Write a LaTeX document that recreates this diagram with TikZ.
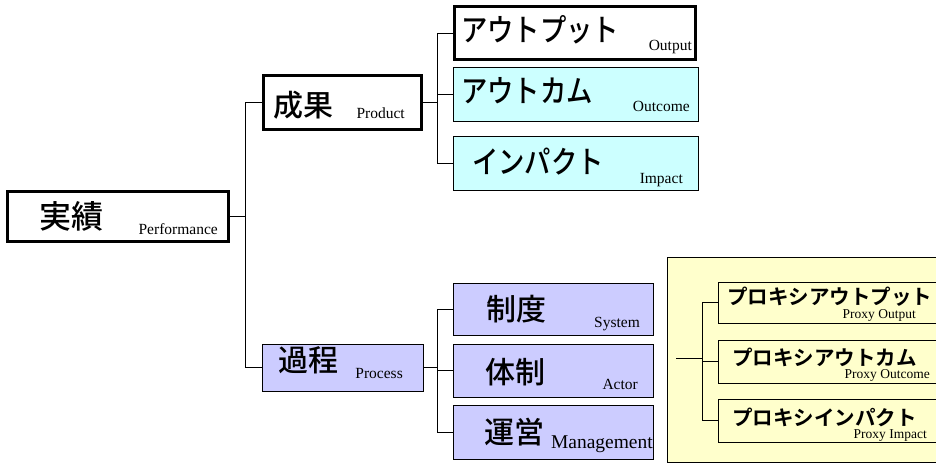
\documentclass[tikz,border=0pt]{standalone}
\usepackage{fontspec}
\usepackage{graphicx}
\setmainfont{Liberation Serif}
\newfontfamily\jpf{Noto Sans CJK JP}[UprightFont={* Medium}, BoldFont={* Bold}]
\definecolor{cy}{HTML}{CCFFFF}
\definecolor{lav}{HTML}{CCCCFF}
\definecolor{yel}{HTML}{FFFFCC}
\newcommand{\jk}[3]{\scalebox{#1}[1]{\fontsize{#2}{#2}\selectfont\jpf #3}}
\tikzset{
  thickbox/.style={draw, line width=3pt, fill=white, inner sep=0pt},
  thinbox/.style={draw, line width=0.9pt, inner sep=0pt},
  cybox/.style={thinbox, fill=cy},
  lavbox/.style={thinbox, fill=lav},
  yelbox/.style={draw, line width=0.9pt, fill=yel, inner sep=0pt},
  proxybox/.style={draw, line width=0.9pt, fill=yel, inner sep=0pt},
  conn/.style={line width=0.9pt},
  jt/.style={anchor=west, inner sep=0pt},
  et/.style={anchor=base east, inner sep=0pt, font=\fontsize{15.5}{15.5}\selectfont},
  pt/.style={anchor=base east, inner sep=0pt, font=\fontsize{13.5}{13.5}\selectfont},
}
\begin{document}
\begin{tikzpicture}[x=1pt,y=-1pt]
\useasboundingbox (0,0) rectangle (936,464);
% main boxes
\node[thickbox, minimum width=221pt, minimum height=50pt] (perf) at (118,216.5) {};
\node[thickbox, minimum width=158pt, minimum height=54pt] (prod) at (342.5,102.5) {};
\node[lavbox, minimum width=161pt, minimum height=47pt] (proc) at (342.5,367.5) {};
\node[thickbox, minimum width=241pt, minimum height=53pt] (out) at (575,33) {};
\node[cybox, minimum width=245pt, minimum height=54pt] (outc) at (575.5,94) {};
\node[cybox, minimum width=245pt, minimum height=54pt] (imp) at (575.5,163) {};
\node[lavbox, minimum width=200pt, minimum height=52pt] (sys) at (553,309) {};
\node[lavbox, minimum width=200pt, minimum height=53pt] (act) at (553,370.5) {};
\node[lavbox, minimum width=200pt, minimum height=54pt] (mgmt) at (553,432) {};
% yellow panel
\node[yelbox, minimum width=300pt, minimum height=205pt] (ybox) at (817,359.5) {};
\node[proxybox, minimum width=250pt, minimum height=41pt] (px1) at (843,302.5) {};
\node[proxybox, minimum width=250pt, minimum height=43pt] (px2) at (843,361.5) {};
\node[proxybox, minimum width=250pt, minimum height=43pt] (px3) at (843,420.5) {};
% connectors
\coordinate (j1) at (245,0);
\coordinate (j2) at (437,0);
\coordinate (j4) at (702,0);
\coordinate (ys) at (676,358);
\draw[conn] (perf.east) -- (perf.east -| j1);
\draw[conn] (prod.west) -| (j1 |- proc.west) -- (proc.west);
\draw[conn] (prod.east) -- (prod.east -| j2);
\draw[conn] (out.west) -| (j2 |- imp.west) -- (imp.west);
\draw[conn] (outc.west) -- (outc.west -| j2);
\draw[conn] (proc.east) -- (proc.east -| j2);
\draw[conn] (sys.west) -| (j2 |- mgmt.west) -- (mgmt.west);
\draw[conn] (act.west) -- (act.west -| j2);
\draw[conn] (ys) -- (ys -| j4);
\draw[conn] (px1.west) -| (j4 |- px3.west) -- (px3.west);
\draw[conn] (px2.west) -- (px2.west -| j4);
% texts
\node[jt] (tperf) at (39,216) {\jk{1}{32}{実績}};
\node[et] (eperf) at (218,234) {Performance};
\node[jt] (tprod) at (273,105) {\jk{1}{30}{成果}};
\node[et] (eprod) at (405,118) {Product};
\node[jt] (tout) at (461,30) {\jk{0.85}{31}{アウトプット}};
\node[et] (eout) at (692,50) {Output};
\node[jt] (toutc) at (461,91) {\jk{0.85}{31}{アウトカム}};
\node[et] (eoutc) at (690,111) {Outcome};
\node[jt] (timp) at (472,162) {\jk{0.85}{31}{インパクト}};
\node[et] (eimp) at (683,183) {Impact};
\node[jt] (tproc) at (278,360) {\jk{1}{30}{過程}};
\node[et] (eproc) at (403,378) {Process};
\node[jt] (tsys) at (486,309) {\jk{1}{30}{制度}};
\node[et] (esys) at (640,327) {System};
\node[jt] (tact) at (485,372) {\jk{1}{30}{体制}};
\node[et] (eact) at (638,389) {Actor};
\node[jt] (tmgmt) at (484,432) {\jk{1}{30}{運営}};
\node[et, font=\fontsize{19.5}{19.5}\selectfont] (emgmt) at (653,448) {Management};
\node[jt] (tpx1) at (727,297) {\jk{1}{20.5}{\bfseries プロキシアウトプット}};
\node[pt] (epx1) at (916,318) {Proxy Output};
\node[jt] (tpx2) at (732,357) {\jk{1}{20.5}{\bfseries プロキシアウトカム}};
\node[pt] (epx2) at (930,378) {Proxy Outcome};
\node[jt] (tpx3) at (732,417) {\jk{1}{20.5}{\bfseries プロキシインパクト}};
\node[pt] (epx3) at (927,438) {Proxy Impact};
\end{tikzpicture}
\end{document}
